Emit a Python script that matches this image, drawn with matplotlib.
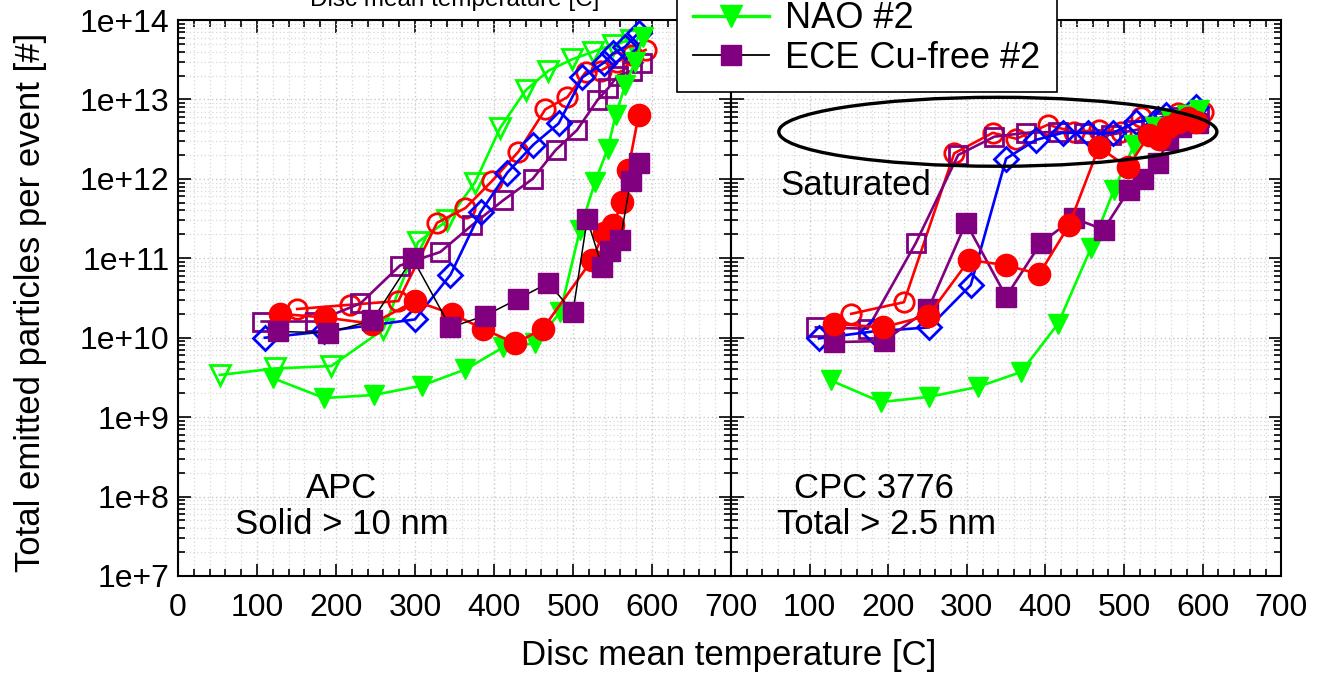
#!/usr/bin/env python3

import math
import matplotlib
matplotlib.use("Agg")
import matplotlib.pyplot as plt
from matplotlib.patches import Ellipse
from matplotlib.lines import Line2D
from matplotlib.ticker import LogLocator, FuncFormatter, MultipleLocator, NullFormatter

plt.rcParams['font.family'] = ['Liberation Sans', 'DejaVu Sans']

###################################################
# DATA
###################################################

# ---- left panel: APC, solid > 10 nm ----
apc_nao_open_t = [53, 123, 194, 260, 304, 341, 376, 408, 440, 469, 499, 526, 551, 573]
apc_nao_open_n = [3.4e9, 4.1e9, 4.4e9, 1.27e10, 1.6e11, 3.0e11, 9.0e11, 4.4e12, 1.3e13, 2.3e13, 3.2e13, 4.0e13, 4.9e13, 5.6e13]

apc_red_open_t = [151, 218, 279, 328, 364, 398, 431, 465, 493, 516, 535, 556, 575, 592]
apc_red_open_n = [2.3e10, 2.6e10, 2.9e10, 2.8e11, 4.3e11, 9.5e11, 2.2e12, 7.5e12, 1.07e13, 2.2e13, 2.3e13, 3.0e13, 3.6e13, 4.2e13]

apc_ece_open_t = [106, 174, 231, 281, 332, 372, 412, 449, 478, 505, 531, 545, 557, 575, 588]
apc_ece_open_n = [1.6e10, 1.6e10, 2.7e10, 8.1e10, 1.2e11, 2.6e11, 5.4e11, 1.0e12, 2.3e12, 4.1e12, 9.8e12, 1.4e13, 2.0e13, 2.3e13, 2.9e13]

apc_blue_open_t = [110, 185, 300, 345, 383, 417, 450, 482, 512, 539, 551, 566, 583]
apc_blue_open_n = [1.0e10, 1.2e10, 1.7e10, 6.2e10, 3.8e11, 1.2e12, 2.7e12, 5.0e12, 1.9e13, 2.9e13, 3.8e13, 4.6e13, 6.9e13]

apc_nao_t = [120, 185, 248, 309, 364, 412, 452, 484, 509, 528, 544, 554, 566, 579, 589]
apc_nao_n = [3.1e9, 1.74e9, 1.9e9, 2.5e9, 4.0e9, 7.6e9, 8.5e9, 2.1e10, 2.3e11, 9.1e11, 2.4e12, 6.3e12, 1.5e13, 3.0e13, 6.2e13]

apc_red_t = [129, 186, 246, 300, 347, 386, 427, 462, 524, 539, 551, 562, 570, 583]
apc_red_n = [2.0e10, 1.8e10, 1.5e10, 2.9e10, 2.0e10, 1.3e10, 8.5e9, 1.3e10, 9.5e10, 2.1e11, 2.6e11, 5.1e11, 1.3e12, 6.3e12]

apc_ece_t = [127, 190, 246, 297, 345, 389, 431, 469, 500, 518, 537, 547, 560, 573, 583]
apc_ece_n = [1.2e10, 1.15e10, 1.65e10, 1.0e11, 1.35e10, 1.9e10, 3.1e10, 4.9e10, 2.1e10, 3.1e11, 7.8e10, 1.25e11, 1.7e11, 9.5e11, 1.6e12]

# ---- right panel: CPC 3776, total > 2.5 nm ----
cpc_red_open_t = [153, 220, 284, 333, 363, 403, 436, 468, 496, 521, 543, 569, 600]
cpc_red_open_n = [2.0e10, 2.8e10, 2.1e12, 3.8e12, 3.2e12, 4.8e12, 3.9e12, 4.1e12, 3.9e12, 6.0e12, 5.5e12, 6.8e12, 6.9e12]

cpc_ece_open_t = [108, 174, 235, 289, 335, 375, 416, 449, 483, 513, 534, 551, 572, 595]
cpc_ece_open_n = [1.35e10, 1.3e10, 1.55e11, 2.0e12, 3.4e12, 3.8e12, 3.9e12, 3.8e12, 3.6e12, 4.1e12, 4.5e12, 5.2e12, 6.0e12, 6.0e12]

cpc_blue_open_t = [112, 181, 252, 305, 350, 388, 422, 454, 486, 515, 543, 553, 591]
cpc_blue_open_n = [9.8e9, 1.2e10, 1.35e10, 4.6e10, 1.8e12, 3.1e12, 3.8e12, 3.8e12, 3.8e12, 5.2e12, 5.7e12, 6.3e12, 8.0e12]

cpc_nao_t = [127, 191, 252, 314, 369, 416, 458, 487, 513, 540, 560, 580, 595]
cpc_nao_n = [2.9e9, 1.55e9, 1.8e9, 2.4e9, 3.7e9, 1.5e10, 1.35e11, 7.2e11, 2.7e12, 4.5e12, 5.5e12, 6.3e12, 7.4e12]

cpc_ece_t = [131, 195, 251, 299, 350, 394, 436, 474, 506, 524, 543, 556, 572, 594]
cpc_ece_n = [8.8e9, 9.1e9, 2.3e10, 2.8e11, 3.3e10, 1.55e11, 3.2e11, 2.3e11, 7.2e11, 1.0e12, 1.6e12, 3.1e12, 4.5e12, 5.0e12]

cpc_red_t = [131, 193, 251, 303, 350, 392, 430, 468, 505, 532, 544, 556, 569, 581, 591]
cpc_red_n = [1.5e10, 1.35e10, 1.9e10, 9.5e10, 8.2e10, 6.3e10, 2.6e11, 2.5e12, 1.4e12, 3.6e12, 3.2e12, 4.5e12, 5.2e12, 5.8e12, 5.2e12]

x_ticks = [0, 100, 200, 300, 400, 500, 600, 700]

GREEN = '#00ff00'
RED = '#ff0000'
BLUE = '#0000ff'
PURPLE = '#800080'

###################################################
# PLOT
###################################################

fig = plt.figure(figsize=(13.22, 6.79), dpi=100)
axL = fig.add_axes([0.1346, 0.1517, 0.4183, 0.8188])
axR = fig.add_axes([0.5529, 0.1517, 0.4163, 0.8188])


def draw_open(ax, t, n, color, marker, ms=14):
    ax.plot(t, n, color=color, lw=1.9, marker=marker, ms=ms, mfc='none',
            mec=color, mew=2.0, zorder=3)


def draw_filled(ax, t, n, color, marker, lcolor=None, lw=1.9, ms=15):
    ax.plot(t, n, color=lcolor or color, lw=lw, marker=marker, ms=ms, mfc=color,
            mec=color, zorder=4)


# left panel
draw_open(axL, apc_nao_open_t, apc_nao_open_n, GREEN, 'v')
draw_open(axL, apc_red_open_t, apc_red_open_n, RED, 'o')
draw_open(axL, apc_ece_open_t, apc_ece_open_n, PURPLE, 's', ms=13)
draw_open(axL, apc_blue_open_t, apc_blue_open_n, BLUE, 'D', ms=12)
draw_filled(axL, apc_nao_t, apc_nao_n, GREEN, 'v')
draw_filled(axL, apc_red_t, apc_red_n, RED, 'o', ms=16)
draw_filled(axL, apc_ece_t, apc_ece_n, PURPLE, 's', lcolor='black', lw=1.1, ms=14)

# right panel
draw_open(axR, cpc_red_open_t, cpc_red_open_n, RED, 'o')
draw_open(axR, cpc_ece_open_t, cpc_ece_open_n, PURPLE, 's', ms=13)
draw_open(axR, cpc_blue_open_t, cpc_blue_open_n, BLUE, 'D', ms=12)
draw_filled(axR, cpc_nao_t, cpc_nao_n, GREEN, 'v')
draw_filled(axR, cpc_ece_t, cpc_ece_n, PURPLE, 's', ms=14)
draw_filled(axR, cpc_red_t, cpc_red_n, RED, 'o', ms=16)

for ax in (axL, axR):
    ax.set_yscale('log')
    ax.set_ylim(1e7, 1e14)
    ax.set_xlim(0, 700)
    ax.xaxis.set_major_locator(MultipleLocator(100))
    ax.xaxis.set_minor_locator(MultipleLocator(20))
    ax.yaxis.set_major_locator(LogLocator(base=10, numticks=20))
    ax.yaxis.set_minor_locator(LogLocator(base=10, subs=range(2, 10), numticks=50))
    ax.yaxis.set_minor_formatter(NullFormatter())
    ax.grid(True, which='major', color='#c8c8c8', linestyle=(0, (1, 2)), lw=1.0)
    ax.grid(True, which='minor', color='#d8d8d8', linestyle=(0, (1, 2)), lw=0.9)
    ax.tick_params(which='both', direction='in', top=True, bottom=True, left=True, right=True,
                   labelsize=23, width=1.2)
    ax.tick_params(which='major', length=9)
    ax.tick_params(which='minor', length=5)
    ax.tick_params(axis='x', which='major', pad=12)
    ax.tick_params(axis='y', which='major', pad=6)
    for s in ax.spines.values():
        s.set_linewidth(1.5)

axL.set_xticks(x_ticks)
axL.yaxis.set_major_formatter(FuncFormatter(lambda v, p: '1e+%d' % round(math.log10(v))))
axR.set_xticks(x_ticks)
axR.set_xticklabels([''] + [str(t) for t in x_ticks[1:]])
axR.yaxis.set_major_formatter(NullFormatter())

axL.set_title('Disc mean temperature [C]', fontsize=17.5, pad=10)

# annotations
axL.text(0.295, 0.158, 'APC', transform=axL.transAxes, fontsize=25, ha='center', va='center')
axL.text(0.297, 0.092, 'Solid > 10 nm', transform=axL.transAxes, fontsize=25, ha='center', va='center')
axR.text(0.26, 0.158, 'CPC 3776', transform=axR.transAxes, fontsize=25, ha='center', va='center')
axR.text(0.282, 0.092, 'Total > 2.5 nm', transform=axR.transAxes, fontsize=25, ha='center', va='center')
axR.text(0.089, 0.703, 'Saturated', transform=axR.transAxes, fontsize=25, va='center')
axR.add_patch(Ellipse((0.485, 0.799), 0.796, 0.124, transform=axR.transAxes,
                      fill=False, ec='black', lw=2.4, zorder=5))

fig.text(0.551, 0.035, 'Disc mean temperature [C]', ha='center', va='center', fontsize=25)
fig.text(0.0227, 0.555, 'Total emitted particles per event [#]', rotation=90,
         ha='center', va='center', fontsize=25)

# legend (only the last two entries fit inside the picture)
handles = [
    Line2D([], [], color=GREEN, lw=2.4, marker='v', ms=16, mfc=GREEN, mec=GREEN),
    Line2D([], [], color='black', lw=1.3, marker='s', ms=14, mfc=PURPLE, mec=PURPLE),
]
leg = fig.legend(handles, ['NAO #2', 'ECE Cu-free #2'], loc='lower left',
                 bbox_to_anchor=(677 / 1322, 1 - 92 / 679), fontsize=26,
                 frameon=True, fancybox=False, framealpha=1, edgecolor='black',
                 handlelength=2.1, handletextpad=0.45, borderpad=0.45,
                 labelspacing=0.12, borderaxespad=0)
leg.get_frame().set_linewidth(1.2)

plt.savefig('out.png', dpi=100)
plt.close()
